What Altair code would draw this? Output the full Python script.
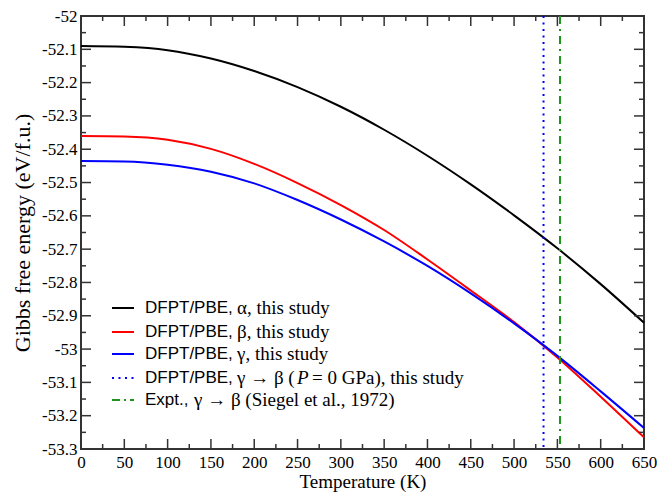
import altair as alt
import pandas as pd

# ---------------- data ----------------
temperature = [0, 50, 100, 150, 200, 250, 300, 350, 400, 450, 500, 550, 600, 650]
alpha_G = [-52.090, -52.0925, -52.1025, -52.1275, -52.165, -52.2135, -52.2725, -52.3415,
           -52.4195, -52.5055, -52.5985, -52.6975, -52.805, -52.921]
beta_G = [-52.360, -52.3615, -52.3715, -52.399, -52.444, -52.5015, -52.5675, -52.6425,
          -52.731, -52.824, -52.919, -53.025, -53.143, -53.265]
gamma_G = [-52.435, -52.4365, -52.4465, -52.4675, -52.5025, -52.5525, -52.611, -52.677,
           -52.7505, -52.833, -52.923, -53.0205, -53.127, -53.237]

series_names = ["alpha", "beta", "gamma"]
series_colors = ["#000000", "#ff0000", "#0000ff"]

transition_calc_T = 534   # DFPT/PBE gamma -> beta (P = 0 GPa)
transition_expt_T = 553   # Expt. (Siegel et al., 1972)

x_major = [0, 50, 100, 150, 200, 250, 300, 350, 400, 450, 500, 550, 600, 650]
x_minor = [25, 75, 125, 175, 225, 275, 325, 375, 425, 475, 525, 575, 625]
y_major = [-52.0, -52.1, -52.2, -52.3, -52.4, -52.5, -52.6, -52.7, -52.8, -52.9,
           -53.0, -53.1, -53.2, -53.3]
y_minor = [-52.05, -52.15, -52.25, -52.35, -52.45, -52.55, -52.65, -52.75, -52.85,
           -52.95, -53.05, -53.15, -53.25]

W, H = 563, 433
FRAME = "#333333"
GREEN = "#1e961e"

# ---------------- scales & axes ----------------
xs = alt.Scale(domain=[0, 650], nice=False, zero=False)
ys = alt.Scale(domain=[-53.3, -52.0], nice=False, zero=False)

X_AX = alt.Axis(
    title="Temperature (K)", values=x_major, ticks=False, domain=False, grid=False,
    labelFont="Liberation Serif", labelFontSize=17, labelColor="black",
    labelPadding=5, labelFlush=False, labelOverlap=False,
    titleFont="Liberation Serif", titleFontSize=19, titleFontWeight="normal",
    titleColor="black", titlePadding=2)
Y_AX = alt.Axis(
    title="Gibbs free energy (eV/f.u.)", values=y_major, ticks=False, domain=False,
    grid=False, labelExpr="'' + datum.value", labelOverlap=False,
    labelFont="Liberation Serif", labelFontSize=17, labelColor="black",
    labelPadding=4, labelFlush=False,
    titleFont="Liberation Serif", titleFontSize=22, titleFontWeight="normal",
    titleColor="black", titlePadding=7)

# ---------------- curves ----------------
curves = pd.DataFrame({
    "T": temperature * 3,
    "G": alpha_G + beta_G + gamma_G,
    "series": [s for s in series_names for _ in temperature],
})

lines = alt.Chart(curves).mark_line(strokeWidth=2, interpolate="monotone").encode(
    x=alt.X("T:Q", scale=xs, axis=X_AX),
    y=alt.Y("G:Q", scale=ys, axis=Y_AX),
    color=alt.Color("series:N", scale=alt.Scale(domain=series_names, range=series_colors),
                    legend=None),
)

calc_line = alt.Chart(pd.DataFrame({"T": [transition_calc_T]})).mark_rule(
    color="#0000ff", strokeWidth=2, strokeDash=[2, 4.5]).encode(
    x=alt.X("T:Q", scale=xs, axis=X_AX))
expt_line = alt.Chart(pd.DataFrame({"T": [transition_expt_T]})).mark_rule(
    color=GREEN, strokeWidth=2, strokeDash=[8, 5, 2, 5]).encode(
    x=alt.X("T:Q", scale=xs, axis=X_AX))

# ---------------- inward ticks on all four sides ----------------
def xticks(vals, length):
    d = pd.DataFrame({"v": vals})
    bottom = alt.Chart(d).mark_rule(color=FRAME, strokeWidth=1.5).encode(
        x=alt.X("v:Q", scale=xs, axis=X_AX), y=alt.value(H), y2=alt.value(H - length))
    top = alt.Chart(d).mark_rule(color=FRAME, strokeWidth=1.5).encode(
        x=alt.X("v:Q", scale=xs, axis=X_AX), y=alt.value(0), y2=alt.value(length))
    return [bottom, top]

def yticks(vals, length):
    d = pd.DataFrame({"v": vals})
    left = alt.Chart(d).mark_rule(color=FRAME, strokeWidth=1.5).encode(
        y=alt.Y("v:Q", scale=ys, axis=Y_AX), x=alt.value(0), x2=alt.value(length))
    right = alt.Chart(d).mark_rule(color=FRAME, strokeWidth=1.5).encode(
        y=alt.Y("v:Q", scale=ys, axis=Y_AX), x=alt.value(W), x2=alt.value(W - length))
    return [left, right]

tick_layers = xticks(x_major, 10) + xticks(x_minor, 5) + yticks(y_major, 10) + yticks(y_minor, 5)

# ---------------- legend (manual, mixed fonts) ----------------
row_y = [292, 316, 338, 362, 384]
legend_colors = ["#000000", "#ff0000", "#0000ff", "#0000ff", GREEN]
legend_dashes = [None, None, None, [2, 4.5], [8, 4, 2, 4]]
# (row, x, text, font, size, style)
legend_texts = [
    (0, 64, "DFPT/PBE,", "Liberation Sans", 17, "normal"),
    (0, 156, "α, this study", "Liberation Serif", 19, "normal"),
    (1, 64, "DFPT/PBE,", "Liberation Sans", 17, "normal"),
    (1, 156, "β, this study", "Liberation Serif", 19, "normal"),
    (2, 64, "DFPT/PBE,", "Liberation Sans", 17, "normal"),
    (2, 156, "γ, this study", "Liberation Serif", 19, "normal"),
    (3, 64, "DFPT/PBE,", "Liberation Sans", 17, "normal"),
    (3, 156, "γ → β (", "Liberation Serif", 19, "normal"),
    (3, 216, "P", "Liberation Serif", 19, "italic"),
    (3, 231, "= 0 GPa), this study", "Liberation Serif", 19, "normal"),
    (4, 64, "Expt.,", "Liberation Sans", 17, "normal"),
    (4, 113, "γ → β (Siegel et al., 1972)", "Liberation Serif", 19, "normal"),
]

legend_layers = []
for i in range(5):
    kw = dict(strokeWidth=2, color=legend_colors[i])
    if legend_dashes[i] is not None:
        kw["strokeDash"] = legend_dashes[i]
    legend_layers.append(alt.Chart(pd.DataFrame({"r": [i]})).mark_rule(**kw).encode(
        x=alt.value(31), x2=alt.value(53), y=alt.value(row_y[i])))

for row, px, txt, font, size, style in legend_texts:
    legend_layers.append(alt.Chart(pd.DataFrame({"t": [txt]})).mark_text(
        align="left", baseline="middle", font=font, fontSize=size, fontStyle=style,
        color="black").encode(x=alt.value(px), y=alt.value(row_y[row]), text="t:N"))

chart = alt.layer(lines, calc_line, expt_line, *tick_layers, *legend_layers).properties(
    width=W, height=H,
    autosize=alt.AutoSizeParams(type="none"),
    padding={"left": 73, "top": 8, "right": 20, "bottom": 50},
    background="white",
).configure_view(stroke=FRAME, strokeWidth=2)

chart.save("out.html", embed_options={"renderer": "svg", "actions": False})
